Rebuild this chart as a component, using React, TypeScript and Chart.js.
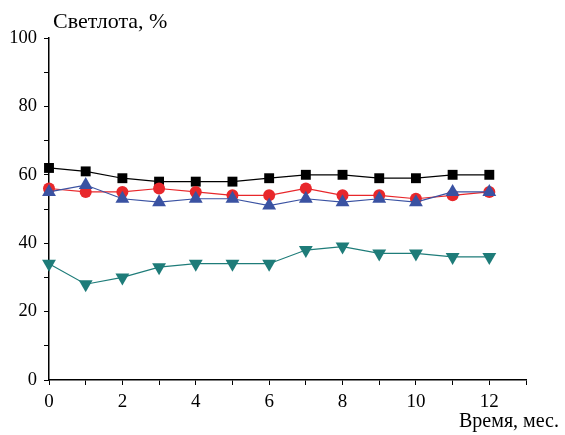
import React, { useEffect, useRef } from "react";
import { Chart, registerables } from "chart.js";

Chart.register(...registerables);

const months = [0, 1, 2, 3, 4, 5, 6, 7, 8, 9, 10, 11, 12];
const seriesSquares = [62, 61, 59, 58, 58, 58, 59, 60, 60, 59, 59, 60, 60];
const seriesCircles = [56, 55, 55, 56, 55, 54, 54, 56, 54, 54, 53, 54, 55];
const seriesTriangles = [55, 57, 53, 52, 53, 53, 51, 53, 52, 53, 52, 55, 55];
const seriesInverted = [34, 28, 30, 33, 34, 34, 34, 38, 39, 37, 37, 36, 36];

const yAxisTitle = "Светлота, %";
const xAxisTitle = "Время, мес.";

const FONT = '"Liberation Serif"';

const toPoints = (vals: number[]) => months.map((m, i) => ({ x: m, y: vals[i] }));

export default function App() {
  const ref = useRef<HTMLCanvasElement>(null);

  useEffect(() => {
    if (!ref.current) return;

    const titlePlugin = {
      id: "axisTitles",
      afterDraw(c: any) {
        const ctx = c.ctx;
        const area = c.chartArea;
        ctx.save();
        ctx.fillStyle = "#000";
        ctx.textBaseline = "alphabetic";
        ctx.font = `22px ${FONT}`;
        ctx.textAlign = "left";
        ctx.fillText(yAxisTitle, area.left + 4, 28);
        ctx.font = `20px ${FONT}`;
        ctx.textAlign = "right";
        ctx.fillText(xAxisTitle, c.width - 6, 427);
        ctx.restore();
      },
    };

    const common = { borderWidth: 1.2, clip: false as any, tension: 0 };

    Chart.defaults.font.family = FONT;

    const chart = new Chart(ref.current, {
      type: "line",
      data: {
        datasets: [
          {
            ...common,
            data: toPoints(seriesSquares),
            borderColor: "#000000",
            backgroundColor: "#000000",
            pointStyle: "rect",
            pointRadius: 7,
            pointBorderWidth: 0,
            order: 3,
          },
          {
            ...common,
            data: toPoints(seriesCircles),
            borderColor: "#e8272b",
            backgroundColor: "#e8272b",
            pointStyle: "circle",
            pointRadius: 6,
            pointBorderWidth: 0,
            order: 2,
          },
          {
            ...common,
            data: toPoints(seriesTriangles),
            borderColor: "#3a52a2",
            backgroundColor: "#3a52a2",
            pointStyle: "triangle",
            pointRadius: 8,
            pointBorderWidth: 0,
            order: 1,
          },
          {
            ...common,
            data: toPoints(seriesInverted),
            borderColor: "#1e7c79",
            backgroundColor: "#1e7c79",
            pointStyle: "triangle",
            rotation: 180,
            pointRadius: 8,
            pointBorderWidth: 0,
            order: 4,
          },
        ],
      },
      options: {
        responsive: false,
        animation: false,
        events: [],
        layout: { padding: { top: 38, right: 39, left: 0, bottom: 0 } },
        plugins: {
          legend: { display: false },
          tooltip: { enabled: false },
        },
        scales: {
          x: {
            type: "linear",
            min: 0,
            max: 13,
            offset: false,
            grid: {
              display: true,
              drawOnChartArea: false,
              drawTicks: true,
              tickLength: 5,
              color: "#000",
              lineWidth: 1,
            },
            border: { display: true, color: "#000", width: 1.5 },
            ticks: {
              stepSize: 1,
              autoSkip: false,
              maxRotation: 0,
              padding: 6,
              color: "#000",
              font: { family: FONT, size: 19 },
              callback: (v: any) => (v % 2 === 0 && v <= 12 ? String(v) : ""),
            },
            afterFit: (scale: any) => {
              scale.height = 55;
            },
          },
          y: {
            type: "linear",
            min: 0,
            max: 100,
            grid: {
              display: true,
              drawOnChartArea: false,
              drawTicks: true,
              tickLength: 5,
              color: "#000",
              lineWidth: 1,
            },
            border: { display: true, color: "#000", width: 1.5 },
            ticks: {
              stepSize: 10,
              autoSkip: false,
              padding: 7,
              color: "#000",
              font: { family: FONT, size: 18.5 },
              callback: (v: any) => (v % 20 === 0 ? String(v) : ""),
            },
            afterFit: (scale: any) => {
              scale.width = 49;
            },
          },
        },
      },
      plugins: [titlePlugin],
    } as any);

    return () => chart.destroy();
  }, []);

  return (
    <div style={{ position: "absolute", left: 0, top: 0, width: 565, height: 435, background: "#fff" }}>
      <canvas ref={ref} width={565} height={435} style={{ display: "block", width: 565, height: 435 }} />
    </div>
  );
}
